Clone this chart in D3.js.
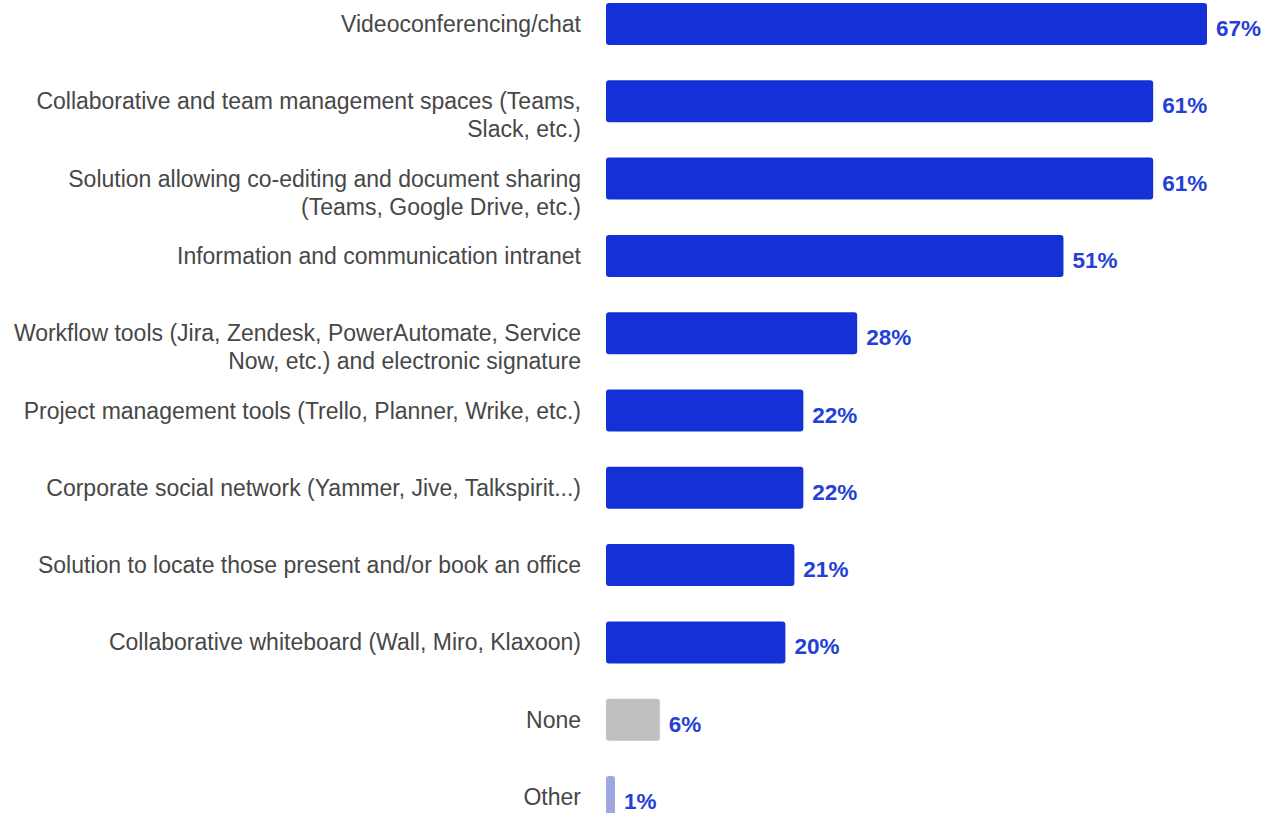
<!DOCTYPE html>
<html>
<head>
<meta charset="utf-8">
<script src="https://cdn.jsdelivr.net/npm/d3@7"></script>
<style>
  html, body { margin: 0; padding: 0; background: #fff; overflow: hidden; }
  svg { display: block; }
</style>
</head>
<body>
<svg id="chart" width="1264" height="813"></svg>
<script>
// Survey answers: share of respondents using each digital tool
const categories = [
  "Videoconferencing/chat",
  "Collaborative and team management spaces (Teams, Slack, etc.)",
  "Solution allowing co-editing and document sharing (Teams, Google Drive, etc.)",
  "Information and communication intranet",
  "Workflow tools (Jira, Zendesk, PowerAutomate, Service Now, etc.) and electronic signature",
  "Project management tools (Trello, Planner, Wrike, etc.)",
  "Corporate social network (Yammer, Jive, Talkspirit...)",
  "Solution to locate those present and/or book an office",
  "Collaborative whiteboard (Wall, Miro, Klaxoon)",
  "None",
  "Other"
];
const values = [67, 61, 61, 51, 28, 22, 22, 21, 20, 6, 1];
const barColors = ["#1430d6", "#1430d6", "#1430d6", "#1430d6", "#1430d6", "#1430d6",
                   "#1430d6", "#1430d6", "#1430d6", "#c0c0c0", "#9ea7df"];

const svg = d3.select("#chart");
const fontFamily = "Arial, 'Liberation Sans', sans-serif";

const x = d3.scaleLinear().domain([0, 100]).range([606, 1503]);
const y = d3.scaleBand()
  .domain(categories)
  .range([3, 818])
  .paddingInner(0.4567)
  .paddingOuter(0);

const rows = categories.map((c, i) => ({ cat: c, value: values[i], color: barColors[i] }));

// Bars
svg.append("g").selectAll("rect")
  .data(rows)
  .join("rect")
  .attr("x", x(0))
  .attr("y", d => y(d.cat))
  .attr("width", d => x(d.value) - x(0))
  .attr("height", y.bandwidth())
  .attr("rx", 3)
  .attr("fill", d => d.color);

// Value labels
svg.append("g").selectAll("text")
  .data(rows)
  .join("text")
  .attr("x", d => x(d.value) + 9)
  .attr("y", d => y(d.cat) + y.bandwidth() / 2 + 12)
  .attr("font-family", fontFamily)
  .attr("font-size", 22.5)
  .attr("font-weight", "bold")
  .attr("fill", "#2440d6")
  .text(d => d.value + "%");

// Category labels, wrapped to the available width
const labelRight = 581;
const maxWidth = 590;
const lineHeight = 28;
const labels = svg.append("g")
  .attr("font-family", fontFamily)
  .attr("font-size", 23)
  .attr("fill", "#474747")
  .attr("text-anchor", "end");

rows.forEach(d => {
  const t = labels.append("text")
    .attr("x", labelRight)
    .attr("y", y(d.cat) + y.bandwidth() / 2 + 8);
  const words = d.cat.split(" ");
  let line = [];
  let tspan = t.append("tspan").attr("x", labelRight).attr("dy", 0);
  words.forEach(w => {
    line.push(w);
    tspan.text(line.join(" "));
    if (tspan.node().getComputedTextLength() > maxWidth && line.length > 1) {
      line.pop();
      tspan.text(line.join(" "));
      line = [w];
      tspan = t.append("tspan").attr("x", labelRight).attr("dy", lineHeight).text(w);
    }
  });
});
</script>
</body>
</html>
